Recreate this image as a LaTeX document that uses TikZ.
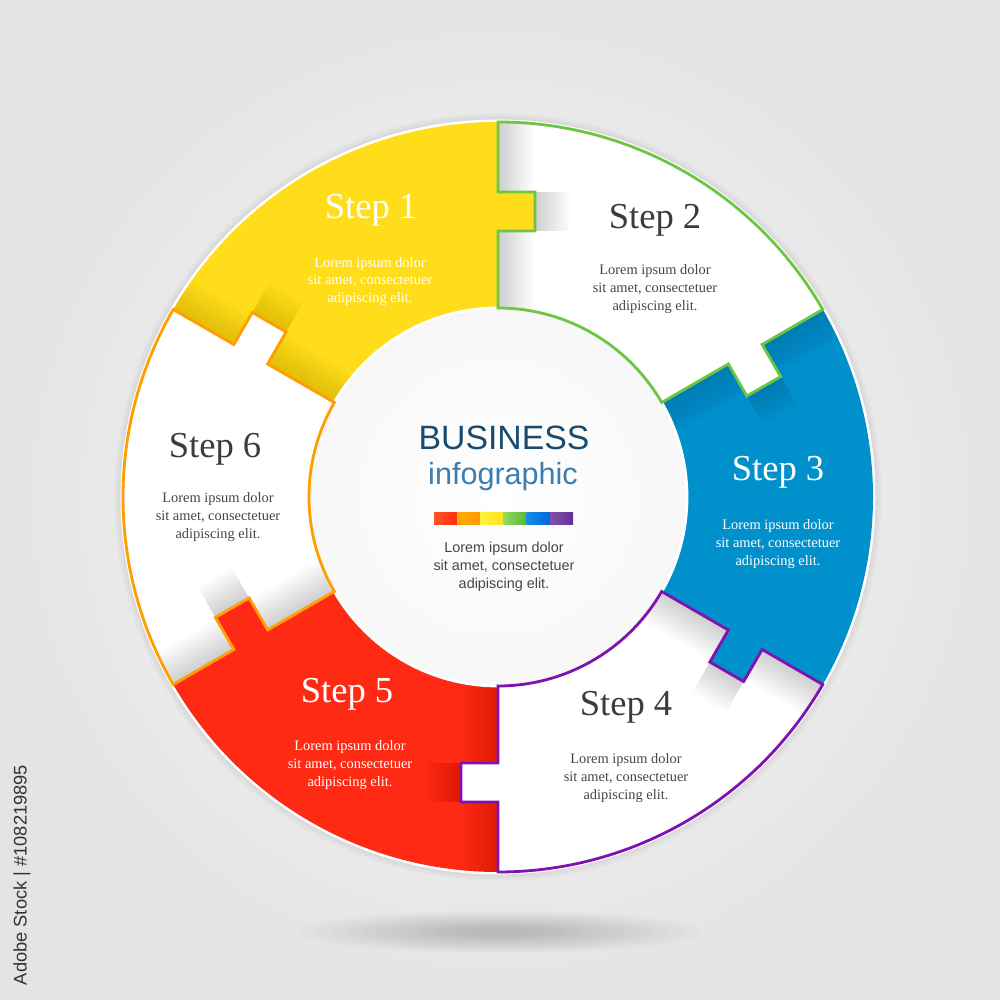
\documentclass[tikz,border=0pt]{standalone}
\usepackage{fontspec}
\setmainfont{Liberation Serif}
\newfontfamily\arialf{Liberation Sans}
\usetikzlibrary{calc}
\definecolor{cyel}{RGB}{255,221,26}
\definecolor{cblue}{RGB}{0,145,205}
\definecolor{cred}{RGB}{254,42,20}
\definecolor{cgreen}{RGB}{108,198,68}
\definecolor{cpurple}{RGB}{128,18,176}
\definecolor{corange}{RGB}{255,158,0}
\definecolor{ctitle}{RGB}{60,60,60}
\definecolor{ctext}{RGB}{70,70,70}
\definecolor{cbiz}{RGB}{25,75,110}
\definecolor{cinfo}{RGB}{60,125,175}
\definecolor{bgin}{RGB}{250,250,250}
\definecolor{bgout}{RGB}{228,228,228}
\definecolor{shyel}{RGB}{150,95,0}
\definecolor{shblue}{RGB}{0,50,100}
\definecolor{shred}{RGB}{120,0,0}
\definecolor{shwhite}{RGB}{0,0,0}
\newcommand\rIn{1.89}
\newcommand\rOut{3.75}
\newcommand\rTa{2.66}
\newcommand\rTb{3.05}
\newcommand\tDep{0.37}
\newcommand\segpath[2]{(#2:\rOut) arc[start angle=#2, end angle=#1, radius=\rOut] -- (#1:\rTb) -- ($(#1:\rTb)+({#1-90}:\tDep)$) -- ($(#1:\rTa)+({#1-90}:\tDep)$) -- (#1:\rTa) -- (#1:\rIn) arc[start angle=#1, end angle=#2, radius=\rIn] -- (#2:\rTa) -- ($(#2:\rTa)+({#2-90}:\tDep)$) -- ($(#2:\rTb)+({#2-90}:\tDep)$) -- (#2:\rTb) -- cycle}
\newcommand\segshadow[3]{%
  \begin{scope}
    \clip \segpath{#1}{#2};
    \begin{scope}[rotate=#2]
      \foreach \k in {1,...,16}{
        \pgfmathsetmacro\oo{0.022*\k}
        \fill[#3, opacity=0.012] (\rIn-0.5,-\oo) -- (\rTa,-\oo) -- (\rTa,-\tDep-\oo) -- (\rTb,-\tDep-\oo) -- (\rTb,-\oo) -- (\rOut+0.5,-\oo) -- (\rOut+0.5,2) -- (\rIn-0.5,2) -- cycle;
      }
    \end{scope}
  \end{scope}}
\tikzset{
  steptitle/.style={font=\fontsize{10.4}{12}\selectfont, anchor=base, inner sep=0},
  steptext/.style={font=\fontsize{4.1}{5.1}\selectfont, align=center, inner sep=0},
  outline/.style={line width=0.8pt, line join=miter},
}
\begin{document}
\begin{tikzpicture}
\useasboundingbox (-4.98,-5.03) rectangle (5.02,4.97);
\shade[inner color=bgin, outer color=bgout] (-4.98,-5.03) rectangle (5.02,4.97);
% floor shadow
\foreach \k in {1,...,12}
  \fill[black, opacity=0.014] (0.02,-4.35) ellipse[x radius={0.15*\k+0.2}, y radius={0.016*\k+0.02}];
% ring shadow and rim
\foreach \k in {1,...,6}
  \fill[black, opacity=0.012] (0,0) circle ({\rOut+0.02+0.012*\k});
\fill[white] (0,0) circle ({\rOut+0.025});
% segments
\fill[cyel] \segpath{90}{150};
\fill[white] \segpath{30}{90};
\fill[cblue] \segpath{-30}{30};
\fill[white] \segpath{-90}{-30};
\fill[cred] \segpath{-150}{-90};
\fill[white] \segpath{150}{210};
% shadows along notch edges
\segshadow{90}{150}{shyel}
\segshadow{30}{90}{shwhite}
\segshadow{-30}{30}{shblue}
\segshadow{-90}{-30}{shwhite}
\segshadow{-150}{-90}{shred}
\segshadow{150}{210}{shwhite}
% inner circle
\shade[inner color=white, outer color=black!3] (0,0) circle (\rIn);
\draw[white, line width=0.8pt] (0,0) circle (\rIn);
% outlines
\draw[cgreen, outline] \segpath{30}{90};
\draw[cpurple, outline] \segpath{-90}{-30};
\draw[corange, outline] \segpath{150}{210};
% step texts
\node[steptitle, text=white] (t1) at (-1.27,2.78) {Step 1};
\node[steptext, text=white] (l1) at (-1.28,2.155) {Lorem ipsum dolor\\sit amet, consectetuer\\adipiscing elit.};
\node[steptitle, text=ctitle] (t2) at (1.57,2.68) {Step 2};
\node[steptext, text=ctext] (l2) at (1.57,2.08) {Lorem ipsum dolor\\sit amet, consectetuer\\adipiscing elit.};
\node[steptitle, text=white] (t3) at (2.80,0.16) {Step 3};
\node[steptext, text=white] (l3) at (2.80,-0.47) {Lorem ipsum dolor\\sit amet, consectetuer\\adipiscing elit.};
\node[steptitle, text=ctitle] (t4) at (1.28,-2.18) {Step 4};
\node[steptext, text=ctext] (l4) at (1.28,-2.81) {Lorem ipsum dolor\\sit amet, consectetuer\\adipiscing elit.};
\node[steptitle, text=white] (t5) at (-1.51,-2.05) {Step 5};
\node[steptext, text=white] (l5) at (-1.48,-2.68) {Lorem ipsum dolor\\sit amet, consectetuer\\adipiscing elit.};
\node[steptitle, text=ctitle] (t6) at (-2.83,0.39) {Step 6};
\node[steptext, text=ctext] (l6) at (-2.80,-0.20) {Lorem ipsum dolor\\sit amet, consectetuer\\adipiscing elit.};
% center
\node[font=\arialf\fontsize{9.6}{11}\selectfont, text=cbiz, anchor=base, inner sep=0] (biz) at (0.06,0.47) {BUSINESS};
\node[font=\arialf\fontsize{8.7}{10}\selectfont, text=cinfo, anchor=base, inner sep=0] (info) at (0.05,0.12) {infographic};
\shade[left color={rgb,255:red,255;green,85;blue,35}, right color={rgb,255:red,255;green,45;blue,20}] (-0.64,-0.16) rectangle (-0.408,-0.28);
\shade[left color={rgb,255:red,255;green,172;blue,0}, right color={rgb,255:red,255;green,150;blue,0}] (-0.408,-0.16) rectangle (-0.177,-0.28);
\shade[left color={rgb,255:red,255;green,242;blue,60}, right color={rgb,255:red,255;green,226;blue,30}] (-0.177,-0.16) rectangle (0.055,-0.28);
\shade[left color={rgb,255:red,140;green,222;blue,95}, right color={rgb,255:red,88;green,180;blue,60}] (0.055,-0.16) rectangle (0.287,-0.28);
\shade[left color={rgb,255:red,20;green,140;blue,230}, right color={rgb,255:red,0;green,100;blue,220}] (0.287,-0.16) rectangle (0.518,-0.28);
\shade[left color={rgb,255:red,130;green,80;blue,170}, right color={rgb,255:red,100;green,50;blue,150}] (0.518,-0.16) rectangle (0.75,-0.28);
\node[font=\arialf\fontsize{4.1}{5.1}\selectfont, align=center, text=ctext, inner sep=0] (clorem) at (0.06,-0.70) {Lorem ipsum dolor\\sit amet, consectetuer\\adipiscing elit.};
% side label
\node[rotate=90, font=\arialf\fontsize{5.2}{6}\selectfont, text=black!80, inner sep=0] (stock) at (-4.76,-3.78) {Adobe Stock | \#108219895};
\end{tikzpicture}
\end{document}
